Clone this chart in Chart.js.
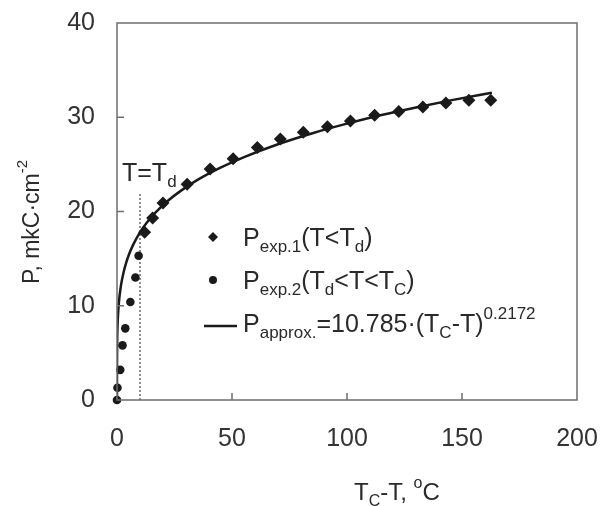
<!DOCTYPE html>
<html>
<head>
<meta charset="utf-8">
<script src="https://cdn.jsdelivr.net/npm/chart.js@4.4.1/dist/chart.umd.min.js"></script>
<style>
  html, body { margin: 0; padding: 0; background: #fff; }
</style>
</head>
<body>
<canvas id="chart" width="609" height="506"></canvas>
<script>
// P exp.1 (T < Td) - diamonds
const exp1X = [12, 15.5, 20, 30.5, 40.5, 50.5, 61, 71, 81, 91.5, 101.5, 112, 122.5, 133, 143, 153, 162.5];
const exp1Y = [17.8, 19.3, 20.9, 22.9, 24.5, 25.6, 26.8, 27.7, 28.4, 29.0, 29.6, 30.2, 30.6, 31.1, 31.5, 31.8, 31.8];

// P exp.2 (Td < T < Tc) - circles
const exp2X = [0, 0.2, 1.4, 2.4, 3.6, 5.8, 8.0, 9.4];
const exp2Y = [0, 1.3, 3.2, 5.8, 7.6, 10.4, 13.0, 15.3];

// approximation curve
const fitX = [0, 0.002, 0.02, 0.1, 0.3, 0.6, 1, 1.5, 2, 3, 4, 5, 7, 10, 13, 17, 22, 28, 35, 45, 55, 70, 85, 100, 115, 130, 145, 163];
const fitY = [0, 2.8, 4.61, 6.54, 8.3, 9.65, 10.79, 11.78, 12.54, 13.69, 14.57, 15.3, 16.46, 17.78, 18.83, 19.95, 21.11, 22.24, 23.35, 24.65, 25.75, 27.14, 28.31, 29.32, 30.23, 31.04, 31.79, 32.61];

// T = Td dotted line
const tdX = [10, 10];
const tdY = [0, 22];

const xTicks = [0, 50, 100, 150, 200];
const yTicks = [0, 10, 20, 30, 40];

const FONT = '"Liberation Sans", Arial, sans-serif';
const pts = (xs, ys) => xs.map((x, i) => ({ x: x, y: ys[i] }));

// text pieces with sub/superscripts
const legendTexts = [
    [{ t: 'P' }, { t: 'exp.1', sub: true }, { t: '(T<T' }, { t: 'd', sub: true }, { t: ')' }],
    [{ t: 'P' }, { t: 'exp.2', sub: true }, { t: '(T' }, { t: 'd', sub: true }, { t: '<T<T' }, { t: 'C', sub: true }, { t: ')' }],
    [{ t: 'P' }, { t: 'approx.', sub: true }, { t: '=10.785·(T' }, { t: 'C', sub: true }, { t: '-T)' }, { t: '0.2172', sup: true }]
];
const xTitle = [{ t: 'T' }, { t: 'C', sub: true }, { t: '-T, ' }, { t: 'o', sup: true }, { t: 'C' }];
const yTitle = [{ t: 'P, mkC·cm' }, { t: '-2', sup: true }];
const tdLabel = [{ t: 'T=T' }, { t: 'd', sub: true }];

function drawRich(ctx, x, y, parts, size) {
    let cx = x;
    for (const p of parts) {
        const s = (p.sub || p.sup) ? Math.round(size * 0.66) : size;
        ctx.font = s + 'px ' + FONT;
        const dy = p.sub ? size * 0.24 : (p.sup ? -size * 0.52 : 0);
        ctx.fillText(p.t, cx, y + dy);
        cx += ctx.measureText(p.t).width;
    }
    return cx;
}

// no extra label padding around the plot, the layout padding decides
const noPad = s => { s.paddingTop = 0; s.paddingBottom = 0; s.paddingLeft = 0; s.paddingRight = 0; };

const decor = {
    id: 'decor',
    afterDraw(chart) {
        const ctx = chart.ctx;
        const a = chart.chartArea;
        const xs = chart.scales.x, ys = chart.scales.y;
        const L = a.left, R = a.right, T = a.top, B = a.bottom;
        ctx.save();
        ctx.setLineDash([]);
        ctx.globalAlpha = 1;

        // frame
        ctx.strokeStyle = '#6e6e6e';
        ctx.lineWidth = 1.5;
        ctx.beginPath();
        ctx.moveTo(L, T);
        ctx.lineTo(R, T);
        ctx.lineTo(R, B);
        ctx.lineTo(L, B);
        ctx.closePath();
        // inward ticks
        yTicks.forEach(v => {
            const py = ys.getPixelForValue(v);
            ctx.moveTo(L, py);
            ctx.lineTo(L + 7, py);
        });
        xTicks.forEach(v => {
            const px = xs.getPixelForValue(v);
            ctx.moveTo(px, B);
            ctx.lineTo(px, B - 7);
        });
        ctx.stroke();

        ctx.fillStyle = '#2a2a2a';
        ctx.textBaseline = 'alphabetic';
        ctx.textAlign = 'left';

        // T = Td label
        drawRich(ctx, xs.getPixelForValue(0) + 5, ys.getPixelForValue(tdY[1]) - 12, tdLabel, 25);

        // legend
        const lx = L + 96;
        const rows = [246, 289, 332];
        ctx.fillStyle = '#1a1a1a';
        ctx.beginPath();
        ctx.moveTo(lx, rows[0] - 14);
        ctx.lineTo(lx + 5, rows[0] - 9);
        ctx.lineTo(lx, rows[0] - 4);
        ctx.lineTo(lx - 5, rows[0] - 9);
        ctx.closePath();
        ctx.fill();
        ctx.beginPath();
        ctx.arc(lx, rows[1] - 9, 4, 0, Math.PI * 2);
        ctx.fill();
        ctx.strokeStyle = '#1a1a1a';
        ctx.lineWidth = 2.5;
        ctx.beginPath();
        ctx.moveTo(lx - 9, rows[2] - 6);
        ctx.lineTo(lx + 24, rows[2] - 6);
        ctx.stroke();

        ctx.fillStyle = '#2a2a2a';
        legendTexts.forEach((parts, i) => drawRich(ctx, lx + 30, rows[i], parts, 25));

        // axis titles
        drawRich(ctx, 354, 500, xTitle, 24);
        ctx.translate(39, 284);
        ctx.rotate(-Math.PI / 2);
        drawRich(ctx, 0, 0, yTitle, 23);

        ctx.restore();
    }
};

new Chart(document.getElementById('chart'), {
    type: 'scatter',
    data: {
        datasets: [
            {
                label: 'Pexp.1',
                data: pts(exp1X, exp1Y),
                pointStyle: 'rectRot',
                pointRadius: 6.5,
                backgroundColor: '#1a1a1a',
                borderColor: '#1a1a1a',
                borderWidth: 0,
                showLine: false,
                clip: false
            },
            {
                label: 'Pexp.2',
                data: pts(exp2X, exp2Y),
                pointStyle: 'circle',
                pointRadius: 4.3,
                backgroundColor: '#1a1a1a',
                borderColor: '#1a1a1a',
                borderWidth: 0,
                showLine: false,
                clip: false
            },
            {
                label: 'Papprox',
                data: pts(fitX, fitY),
                showLine: true,
                pointRadius: 0,
                borderColor: '#1a1a1a',
                borderWidth: 2.5,
                cubicInterpolationMode: 'monotone'
            },
            {
                label: 'Td',
                data: pts(tdX, tdY),
                showLine: true,
                pointRadius: 0,
                borderColor: '#444',
                borderWidth: 1.2,
                borderDash: [2, 2]
            }
        ]
    },
    options: {
        responsive: false,
        animation: false,
        devicePixelRatio: 1,
        layout: { padding: { left: 0, right: 32, top: 23, bottom: 0 } },
        plugins: {
            legend: { display: false },
            tooltip: { enabled: false }
        },
        scales: {
            x: {
                type: 'linear',
                min: 0,
                max: 200,
                afterBuildTicks: s => { s.ticks = xTicks.map(v => ({ value: v })); },
                afterFit: s => { s.height = 106; noPad(s); },
                grid: { display: false, drawTicks: false },
                border: { display: false },
                ticks: { padding: 24, color: '#333', font: { family: FONT, size: 25 } }
            },
            y: {
                type: 'linear',
                min: 0,
                max: 40,
                afterBuildTicks: s => { s.ticks = yTicks.map(v => ({ value: v })); },
                afterFit: s => { s.width = 117; noPad(s); },
                grid: { display: false, drawTicks: false },
                border: { display: false },
                ticks: { padding: 22, color: '#333', font: { family: FONT, size: 25 } }
            }
        }
    },
    plugins: [decor]
});
</script>
</body>
</html>
